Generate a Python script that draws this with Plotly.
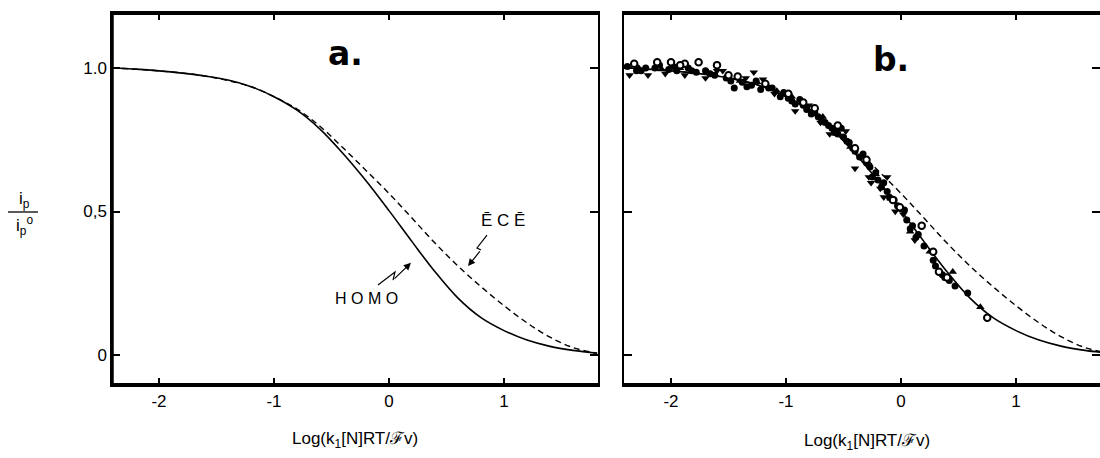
import plotly.graph_objects as go

# ---------------- data ----------------
homo_x = [-2.41, -2.2, -2.0, -1.8, -1.6, -1.4, -1.2, -1.0, -0.8, -0.6, -0.4, -0.2, 0.0, 0.2, 0.4,
          0.6, 0.8, 1.0, 1.2, 1.4, 1.6, 1.81]
homo_y = [1.0, 0.996, 0.99, 0.982, 0.972, 0.958, 0.935, 0.90, 0.853, 0.787, 0.702, 0.607, 0.503, 0.395, 0.29,
          0.198, 0.13, 0.085, 0.052, 0.03, 0.016, 0.006]

ece_x = [-2.41, -2.0, -1.6, -1.2, -1.0, -0.8, -0.6, -0.4, -0.2, 0.0, 0.2, 0.4, 0.6, 0.8, 1.0,
         1.2, 1.4, 1.6, 1.81]
ece_y = [1.0, 0.99, 0.972, 0.935, 0.90, 0.857, 0.797, 0.722, 0.643, 0.563, 0.477, 0.39, 0.31, 0.238, 0.172,
         0.112, 0.062, 0.026, 0.006]

dot_x = [-2.38, -2.30, -2.22, -2.10, -2.02, -1.95, -1.85, -1.78, -1.70, -1.62, -1.52, -1.45, -1.38,
         -1.30, -1.22, -1.15, -1.05, -0.98, -0.92, -0.85, -0.78, -0.72, -0.66, -0.60, -0.55, -0.50,
         -0.45, -0.40, -0.36, -0.30, -0.25, -0.20, -0.15, -0.10, -0.06, 0.0, 0.05, 0.10, 0.15, 0.20,
         0.28, 0.36, 0.42, 0.47, 0.58,
         -2.26, -2.14, -1.98, -1.82, -1.66, -1.48, -1.34, -1.26, -1.12, -1.02, -0.95, -0.88, -0.82,
         -0.75, -0.69, -0.63, -0.58, -0.52, -0.47, -0.42, -0.33, -0.27, -0.22, -0.17, -0.12, -0.03,
         0.03, 0.08, 0.13, 0.30, 0.38]
dot_y = [1.005, 0.99, 1.0, 1.01, 0.995, 0.99, 1.0, 0.985, 0.99, 0.975, 0.965, 0.93, 0.95,
         0.94, 0.925, 0.93, 0.90, 0.895, 0.875, 0.87, 0.84, 0.83, 0.81, 0.79, 0.77, 0.76,
         0.74, 0.71, 0.69, 0.67, 0.62, 0.61, 0.60, 0.55, 0.54, 0.51, 0.47, 0.45, 0.42, 0.38,
         0.33, 0.28, 0.26, 0.24, 0.216,
         0.99, 1.0, 1.005, 0.99, 0.98, 0.955, 0.935, 0.955, 0.93, 0.915, 0.885, 0.89, 0.855,
         0.845, 0.815, 0.80, 0.775, 0.79, 0.745, 0.72, 0.70, 0.655, 0.635, 0.585, 0.57, 0.52,
         0.505, 0.44, 0.41, 0.31, 0.27]

open_x = [-2.32, -2.12, -2.0, -1.88, -1.76, -1.60, -1.42, -1.18, -0.98, -0.75, -0.55, -0.30,
          -0.07, -0.01, 0.18, 0.28, 0.33, 0.40, 0.75, -1.92, -1.50, -0.85, -0.40]
open_y = [1.015, 1.02, 1.02, 1.015, 1.02, 1.01, 0.97, 0.945, 0.91, 0.86, 0.80, 0.68,
          0.54, 0.515, 0.45, 0.36, 0.29, 0.27, 0.13, 1.01, 0.975, 0.88, 0.72]

tdown_x = [-2.36, -2.20, -2.05, -1.88, -1.70, -1.55, -1.35, -1.28, -1.10, -0.92, -0.80, -0.62,
           -0.48, -0.40, -0.28, -0.18, -0.12, -0.05, 0.02, 0.12, -1.60, -1.20, -0.70, -0.26, -0.15]
tdown_y = [0.975, 0.975, 0.98, 0.975, 0.965, 0.99, 0.965, 0.985, 0.91, 0.85, 0.87, 0.77,
           0.78, 0.65, 0.62, 0.58, 0.62, 0.50, 0.49, 0.40, 0.99, 0.96, 0.81, 0.60, 0.55]

tup_x = [-2.28, -2.08, -1.92, -1.68, -1.40, -1.25, -0.95, -0.68, -0.44, -0.22, 0.08, 0.25, 0.45, 0.69,
         -1.08, -0.56, -0.09]
tup_y = [1.0, 0.995, 1.0, 0.985, 0.955, 0.95, 0.90, 0.83, 0.725, 0.63, 0.43, 0.36, 0.29, 0.167,
         0.92, 0.78, 0.545]

x_ticks = [-2, -1, 0, 1]
x_ticktext = ["-2", "-1", "0", "1"]
y_ticks = [0, 0.5, 1.0]
y_ticktext = ["0", "0,5", "1.0"]

# ---------------- layout geometry (pixels) ----------------
W, H = 1100, 458
def px(v):
    return v / W
def py(v):
    return 1 - v / H

A_L, A_R = 112, 598
B_L, B_R = 624, 1100
TOP, BOT = 13, 385

FONT = "Liberation Sans"

fig = go.Figure()

for xa, ya in [("x", "y"), ("x2", "y2")]:
    fig.add_trace(go.Scatter(x=homo_x, y=homo_y, mode="lines",
                             line=dict(color="black", width=1.6, shape="spline", smoothing=1.0),
                             xaxis=xa, yaxis=ya, showlegend=False, hoverinfo="skip"))
    fig.add_trace(go.Scatter(x=ece_x, y=ece_y, mode="lines",
                             line=dict(color="black", width=1.4, dash="6px,4px", shape="spline", smoothing=1.0),
                             xaxis=xa, yaxis=ya, showlegend=False, hoverinfo="skip"))

fig.add_trace(go.Scatter(x=dot_x, y=dot_y, mode="markers", xaxis="x2", yaxis="y2", showlegend=False,
                         marker=dict(symbol="circle", size=7, color="black")))
fig.add_trace(go.Scatter(x=tdown_x, y=tdown_y, mode="markers", xaxis="x2", yaxis="y2", showlegend=False,
                         marker=dict(symbol="triangle-down", size=7.5, color="black")))
fig.add_trace(go.Scatter(x=tup_x, y=tup_y, mode="markers", xaxis="x2", yaxis="y2", showlegend=False,
                         marker=dict(symbol="triangle-up", size=7.5, color="black")))
fig.add_trace(go.Scatter(x=open_x, y=open_y, mode="markers", xaxis="x2", yaxis="y2", showlegend=False,
                         marker=dict(symbol="circle", size=6.5, color="white", line=dict(color="black", width=2))))

x_per = 115.0
a_range = [-2 - (159 - A_L) / x_per, -2 + (A_R - 159) / x_per]
b_range = [-2 - (671 - B_L) / x_per, -2 + (B_R - 671) / x_per]
y_per = 287.0
y_range = [-(BOT - 355) / y_per, (355 - TOP) / y_per]

axis_common = dict(showgrid=False, zeroline=False, showline=True, linecolor="black", linewidth=1.5,
                   mirror="ticks", ticks="inside", tickcolor="black", tickwidth=1.5,
                   tickfont=dict(family=FONT, size=17, color="black"))

fig.update_layout(
    width=W, height=H,
    margin=dict(l=0, r=0, t=0, b=0, autoexpand=False),
    paper_bgcolor="white", plot_bgcolor="white",
    xaxis=dict(domain=[px(A_L), px(A_R)], range=a_range, tickvals=x_ticks, ticktext=x_ticktext,
               ticklen=7, anchor="y", **axis_common),
    yaxis=dict(domain=[py(BOT), py(TOP)], range=y_range, tickvals=y_ticks, ticktext=y_ticktext,
               ticklen=8, anchor="x", **axis_common),
    xaxis2=dict(domain=[px(B_L), px(B_R)], range=b_range, tickvals=x_ticks, ticktext=x_ticktext,
                ticklen=7, anchor="y2", **axis_common),
    yaxis2=dict(domain=[py(BOT), py(TOP)], range=y_range, tickvals=y_ticks, ticktext=y_ticktext,
                showticklabels=False, ticklen=8, anchor="x2", **axis_common),
)

thick = dict(color="black", width=4)
shapes = [
    dict(type="line", xref="paper", yref="paper", x0=px(A_L - 2), x1=px(A_R), y0=py(TOP), y1=py(TOP), line=thick),
    dict(type="line", xref="paper", yref="paper", x0=px(A_L - 2), x1=px(A_R), y0=py(BOT), y1=py(BOT), line=thick),
    dict(type="line", xref="paper", yref="paper", x0=px(A_L), x1=px(A_L), y0=py(TOP), y1=py(BOT),
         line=dict(color="black", width=3.5)),
    dict(type="line", xref="paper", yref="paper", x0=px(B_L), x1=px(B_R), y0=py(TOP), y1=py(TOP), line=thick),
    dict(type="line", xref="paper", yref="paper", x0=px(B_L), x1=px(B_R), y0=py(BOT), y1=py(BOT), line=thick),
    # y-axis fraction bar
    dict(type="line", xref="paper", yref="paper", x0=px(8), x1=px(38), y0=py(212), y1=py(212),
         line=dict(color="black", width=1.3)),
    # HOMO zigzag
    dict(type="path", xref="x", yref="y", path="M -0.096,0.244 L 0.052,0.289 L 0.035,0.261",
         line=dict(color="black", width=1.2)),
    # ECE zigzag
    dict(type="path", xref="x", yref="y", path="M 0.852,0.418 L 0.765,0.373 L 0.80,0.366",
         line=dict(color="black", width=1.2)),
]
fig.update_layout(shapes=shapes)

def ann(x, y, text, size, family=FONT):
    return dict(x=px(x), y=py(y), xref="paper", yref="paper", text=text, showarrow=False,
                xanchor="center", yanchor="middle", font=dict(family=family, size=size, color="black"))

anns = [
    ann(345, 53, "<b>a.</b>", 33, "DejaVu Sans"),
    ann(891, 59, "<b>b.</b>", 33, "DejaVu Sans"),
    ann(366, 298, "H O M O", 16),
    ann(503, 220, "Ē C Ē", 17),
    dict(x=0.191, y=0.321, xref="x", yref="y", ax=0.035, ay=0.261, axref="x", ayref="y", text="",
         showarrow=True, arrowhead=2, arrowsize=1.2, arrowwidth=1.2, arrowcolor="black"),
    dict(x=0.687, y=0.31, xref="x", yref="y", ax=0.80, ay=0.366, axref="x", ayref="y", text="",
         showarrow=True, arrowhead=2, arrowsize=1.2, arrowwidth=1.2, arrowcolor="black"),
    ann(24, 200, "i<sub>p</sub>", 17),
    ann(24, 226, "i<sub>p</sub><sup>o</sup>", 17),
    ann(355, 440, "Log(k<sub>1</sub>[N]RT/ℱv)", 17),
    ann(867, 442, "Log(k<sub>1</sub>[N]RT/ℱv)", 17),
]
fig.update_layout(annotations=anns)

fig.write_html("out.html")
